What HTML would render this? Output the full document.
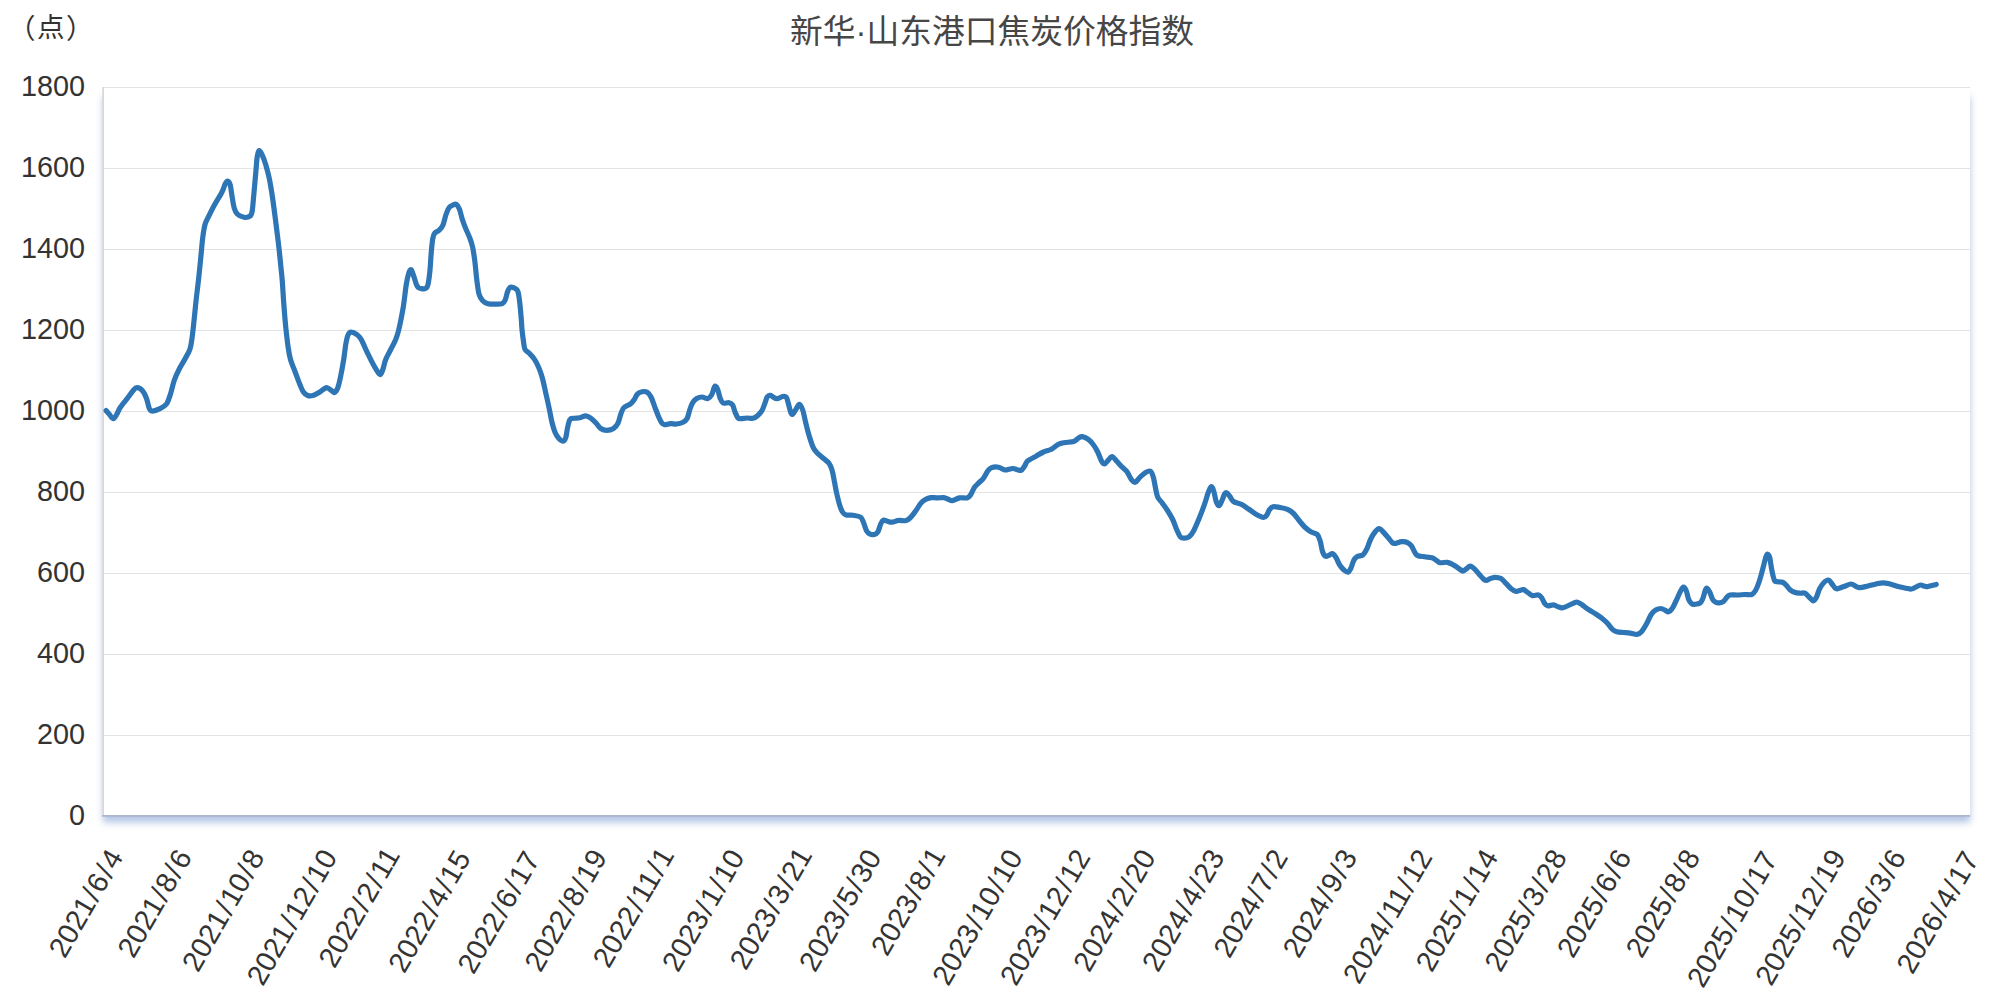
<!DOCTYPE html>
<html lang="zh-CN">
<head>
<meta charset="utf-8">
<title>新华·山东港口焦炭价格指数</title>
<style>
html,body{margin:0;padding:0;background:#fff;}
body{width:2000px;height:1003px;position:relative;overflow:hidden;font-family:"Liberation Sans","Noto Sans CJK SC",sans-serif;color:#333;}
.plot{position:absolute;left:103.0px;top:87.5px;width:1867.0px;height:727.9px;background:#fff;box-shadow:0 7.6px 7px rgba(85,124,195,.44);}
.title{position:absolute;left:0;top:12px;width:1984px;text-align:center;font-size:32.75px;line-height:40px;color:#464646;white-space:nowrap;}
.unit{position:absolute;left:9.5px;top:9.7px;font-size:27.5px;line-height:36px;color:#333;white-space:nowrap;}
svg{position:absolute;left:0;top:0;}
svg text{font-family:"Liberation Sans","Noto Sans CJK SC",sans-serif;fill:#333;}
.yl{font-size:28.8px;text-anchor:end;}
.xl{font-size:28.8px;text-anchor:middle;}
</style>
</head>
<body>
<div class="plot"></div>
<div class="title">新华·山东港口焦炭价格指数</div>
<div class="unit"><span style="position:relative;left:-1.5px;top:1.5px">（</span>点<span style="position:relative;left:1.5px;top:1.5px">）</span></div>
<svg width="2000" height="1003" viewBox="0 0 2000 1003">
<g stroke="#e3e3e3" stroke-width="1" shape-rendering="crispEdges">
<line x1="103.0" y1="87.50" x2="1970.0" y2="87.50"/>
<line x1="103.0" y1="168.50" x2="1970.0" y2="168.50"/>
<line x1="103.0" y1="249.50" x2="1970.0" y2="249.50"/>
<line x1="103.0" y1="330.50" x2="1970.0" y2="330.50"/>
<line x1="103.0" y1="411.50" x2="1970.0" y2="411.50"/>
<line x1="103.0" y1="492.50" x2="1970.0" y2="492.50"/>
<line x1="103.0" y1="573.50" x2="1970.0" y2="573.50"/>
<line x1="103.0" y1="654.50" x2="1970.0" y2="654.50"/>
<line x1="103.0" y1="735.50" x2="1970.0" y2="735.50"/>
</g>
<line x1="103.1" y1="87.0" x2="103.1" y2="815.2" stroke="#d9d9db" stroke-width="1.8"/>
<line x1="102.2" y1="815.9" x2="1970.0" y2="815.9" stroke="#acb6ca" stroke-width="1.8"/>
<path d="M106.1 410.6C106.7 411.2 108.3 413.1 109.5 414.5C110.7 415.9 112.1 418.8 113.3 418.7C114.5 418.6 115.8 415.9 116.9 414.0C118.1 412.1 118.4 410.2 120.2 407.5C122.0 404.8 125.8 400.4 127.9 397.7C130.0 394.9 131.3 392.7 132.8 391.0C134.3 389.3 135.2 387.7 136.9 387.7C138.6 387.7 141.1 389.2 142.7 391.0C144.3 392.8 145.4 395.5 146.5 398.5C147.6 401.5 148.5 406.9 149.5 409.0C150.5 411.1 150.8 411.2 152.5 411.2C154.2 411.1 157.6 409.9 160.0 408.7C162.4 407.4 164.9 406.1 166.7 403.7C168.4 401.2 169.2 397.9 170.5 394.0C171.8 390.1 172.7 384.8 174.2 380.5C175.7 376.2 177.6 372.2 179.5 368.5C181.4 364.8 183.8 361.2 185.5 358.0C187.2 354.8 188.9 352.5 190.0 349.0C191.1 345.5 191.4 342.5 192.2 337.0C192.9 331.5 193.8 323.0 194.5 316.0C195.2 309.0 196.0 301.0 196.7 295.0C197.4 289.0 197.8 286.2 198.5 280.0C199.2 273.8 200.1 264.5 200.8 257.5C201.5 250.5 202.0 243.5 202.7 238.0C203.4 232.5 204.1 227.9 205.0 224.5C205.9 221.1 206.5 220.8 208.0 217.7C209.5 214.6 211.8 209.8 214.0 205.7C216.2 201.6 219.6 196.6 221.5 193.0C223.4 189.4 224.2 186.0 225.2 184.0C226.2 182.0 226.7 180.9 227.5 181.0C228.3 181.1 229.4 182.2 230.2 184.7C230.9 187.2 231.3 192.1 232.0 196.0C232.7 199.9 233.3 205.0 234.2 208.0C235.1 211.0 235.6 212.4 237.2 214.0C238.8 215.6 241.9 216.9 244.0 217.3C246.1 217.7 248.6 217.2 250.0 216.2C251.4 215.1 251.6 214.4 252.2 211.0C252.8 207.6 253.1 202.2 253.7 196.0C254.3 189.8 255.1 180.0 255.7 173.5C256.3 167.0 256.6 160.8 257.2 157.0C257.8 153.2 258.2 151.1 259.0 150.7C259.8 150.3 260.9 152.4 262.0 154.7C263.1 157.0 264.4 160.4 265.7 164.5C266.9 168.6 268.4 174.0 269.5 179.5C270.6 185.0 271.5 190.8 272.5 197.5C273.5 204.2 274.5 212.2 275.5 220.0C276.5 227.8 277.6 236.5 278.5 244.0C279.4 251.5 280.1 259.0 280.7 265.0C281.3 271.0 281.7 273.8 282.2 280.0C282.7 286.2 283.1 294.2 283.7 302.5C284.3 310.8 285.2 322.0 286.0 329.5C286.8 337.0 287.4 342.5 288.2 347.5C288.9 352.5 289.4 355.5 290.5 359.5C291.6 363.5 293.5 367.5 295.0 371.5C296.5 375.5 298.1 380.1 299.5 383.5C300.9 386.9 301.8 389.7 303.2 391.7C304.6 393.7 306.1 394.9 307.7 395.5C309.3 396.1 311.1 396.0 313.0 395.5C314.9 395.0 317.2 393.6 319.0 392.5C320.8 391.4 322.1 390.0 323.5 389.2C324.9 388.4 325.9 387.5 327.2 387.7C328.4 387.9 329.8 389.4 331.0 390.2C332.2 391.0 333.2 392.9 334.3 392.5C335.4 392.1 336.6 390.8 337.7 388.0C338.8 385.2 339.7 380.8 340.7 376.0C341.7 371.2 342.8 365.0 343.7 359.5C344.6 354.0 345.2 347.1 346.0 343.0C346.8 338.9 347.3 336.5 348.2 334.7C349.1 332.9 349.8 332.3 351.2 332.2C352.6 332.1 354.9 333.1 356.5 334.3C358.1 335.5 359.2 336.2 361.0 339.2C362.8 342.1 365.0 347.9 367.0 352.0C369.0 356.1 371.2 360.8 373.0 364.0C374.8 367.2 376.3 369.8 377.5 371.5C378.7 373.2 379.3 374.8 380.2 374.5C381.1 374.2 381.8 372.5 382.7 370.0C383.6 367.5 384.4 362.8 385.7 359.5C386.9 356.2 388.6 353.8 390.2 350.5C391.8 347.2 394.1 343.4 395.5 340.0C396.9 336.6 397.4 335.4 398.7 330.0C400.0 324.6 401.9 315.0 403.2 307.5C404.4 300.0 405.3 290.8 406.2 285.0C407.1 279.2 408.0 275.6 408.8 273.0C409.6 270.4 410.4 269.2 411.2 269.7C412.0 270.2 412.8 273.5 413.7 276.0C414.6 278.5 415.6 282.5 416.4 284.5C417.2 286.5 417.8 287.1 418.6 287.8C419.5 288.5 420.5 288.5 421.5 288.6C422.5 288.8 423.6 288.9 424.5 288.7C425.4 288.5 426.0 288.4 426.6 287.6C427.2 286.8 427.5 286.9 428.1 284.0C428.7 281.1 429.5 275.3 430.0 270.0C430.5 264.7 430.8 257.2 431.3 252.0C431.8 246.8 432.2 241.6 432.8 238.5C433.4 235.4 433.6 234.6 434.7 233.2C435.8 231.8 437.8 231.6 439.2 230.2C440.6 228.8 441.9 227.6 443.0 225.0C444.1 222.4 445.0 217.4 446.0 214.5C447.0 211.6 447.9 209.2 449.0 207.7C450.1 206.1 451.5 205.8 452.7 205.2C453.9 204.6 455.1 203.6 456.2 204.3C457.3 205.0 458.5 206.8 459.5 209.2C460.5 211.6 461.2 215.9 462.2 219.0C463.2 222.1 464.2 224.8 465.5 228.0C466.8 231.2 468.8 235.2 470.0 238.5C471.2 241.8 471.9 243.8 472.7 247.5C473.5 251.2 474.1 255.8 474.8 261.0C475.5 266.2 476.0 273.5 476.7 279.0C477.4 284.5 478.0 290.4 479.0 294.0C480.0 297.6 481.2 299.1 482.7 300.7C484.2 302.3 485.9 303.1 488.0 303.7C490.1 304.3 493.1 304.2 495.5 304.2C497.9 304.2 500.6 304.4 502.2 303.7C503.8 303.0 504.3 302.1 505.2 300.0C506.1 297.9 506.9 293.1 507.8 291.0C508.7 288.9 509.3 287.6 510.5 287.2C511.7 286.8 513.8 287.6 515.0 288.3C516.2 289.1 517.2 289.2 518.0 291.7C518.8 294.1 519.3 298.6 519.8 303.0C520.3 307.4 520.8 313.6 521.2 318.0C521.6 322.4 521.6 325.6 522.0 329.5C522.4 333.4 523.0 338.2 523.5 341.5C524.0 344.8 524.0 347.3 525.0 349.3C526.0 351.3 528.0 351.9 529.5 353.5C531.0 355.1 532.5 356.4 534.0 358.7C535.5 360.9 537.1 363.9 538.5 367.0C539.9 370.1 541.0 373.0 542.2 377.5C543.5 382.0 544.8 388.8 546.0 394.0C547.2 399.2 548.3 404.2 549.3 409.0C550.3 413.8 551.0 418.6 552.0 422.5C553.0 426.4 553.9 429.6 555.0 432.2C556.1 434.8 557.3 436.7 558.7 438.2C560.1 439.7 562.0 441.3 563.2 441.2C564.4 441.1 565.0 439.9 565.8 437.5C566.5 435.1 567.0 430.0 567.7 427.0C568.4 424.0 569.0 420.9 570.0 419.5C571.0 418.1 572.1 418.6 573.7 418.3C575.3 418.0 577.7 418.1 579.7 417.7C581.7 417.3 583.8 415.8 585.7 415.9C587.6 416.0 589.2 417.1 591.0 418.3C592.8 419.5 594.6 421.5 596.2 423.2C597.8 424.9 599.0 427.3 600.7 428.5C602.5 429.7 604.6 430.4 606.7 430.4C608.8 430.4 611.6 429.7 613.5 428.5C615.4 427.3 616.8 425.7 618.0 423.2C619.2 420.7 620.0 416.1 621.0 413.5C622.0 410.9 622.4 409.1 624.0 407.5C625.6 405.9 629.0 405.1 630.7 403.7C632.5 402.3 633.4 400.8 634.5 399.2C635.6 397.6 636.2 395.2 637.5 394.0C638.8 392.8 640.4 392.0 642.0 391.7C643.6 391.4 645.7 391.3 647.2 392.2C648.7 393.1 649.8 394.6 651.0 397.0C652.2 399.4 653.5 403.4 654.7 406.7C656.0 409.9 657.4 413.9 658.5 416.5C659.6 419.1 660.5 421.1 661.5 422.5C662.5 423.9 663.0 424.5 664.5 424.7C666.0 424.9 668.5 423.8 670.5 423.7C672.5 423.6 674.5 424.2 676.5 424.0C678.5 423.8 680.8 423.4 682.5 422.5C684.2 421.6 685.8 420.9 687.0 418.7C688.2 416.4 689.0 411.8 690.0 409.0C691.0 406.2 691.9 403.9 693.0 402.2C694.1 400.4 695.2 399.4 696.7 398.5C698.2 397.6 700.1 397.0 702.0 397.0C703.9 397.0 706.4 398.9 708.0 398.5C709.6 398.1 710.7 396.4 711.7 394.7C712.7 392.9 713.4 389.4 714.0 388.0C714.6 386.6 714.9 385.9 715.5 386.2C716.1 386.4 717.0 387.6 717.7 389.5C718.5 391.4 719.1 395.4 720.0 397.7C720.9 399.9 721.5 402.2 723.0 403.0C724.5 403.8 727.4 402.3 729.0 402.7C730.6 403.1 731.7 403.6 732.7 405.2C733.7 406.8 734.1 409.9 735.0 412.0C735.9 414.1 737.0 416.9 738.0 418.0C739.0 419.1 739.5 418.7 741.0 418.7C742.5 418.7 745.0 418.1 747.0 418.0C749.0 417.9 751.2 418.7 753.0 418.3C754.8 417.9 756.0 417.0 757.5 415.7C759.0 414.4 760.8 412.6 762.0 410.5C763.2 408.4 764.1 405.2 765.0 403.0C765.9 400.8 766.3 398.3 767.2 397.0C768.1 395.7 768.7 395.0 770.2 395.3C771.8 395.6 774.5 398.5 776.5 398.7C778.5 398.9 780.9 396.8 782.5 396.5C784.1 396.2 785.2 395.9 786.2 397.2C787.2 398.4 787.8 401.5 788.5 404.0C789.2 406.5 790.0 410.5 790.7 412.2C791.4 413.9 791.8 414.7 792.7 414.2C793.6 413.7 794.9 410.8 796.0 409.2C797.1 407.6 798.2 404.2 799.3 404.3C800.4 404.4 801.6 406.9 802.7 410.0C803.8 413.1 804.6 418.2 805.7 422.7C806.8 427.2 808.2 432.9 809.5 437.0C810.8 441.1 812.0 444.9 813.2 447.5C814.5 450.1 815.4 450.9 817.0 452.7C818.6 454.4 821.0 456.2 823.0 458.0C825.0 459.8 827.5 461.2 829.0 463.2C830.5 465.2 831.1 467.1 832.0 470.0C832.9 472.9 833.5 476.8 834.2 480.5C835.0 484.2 835.6 488.5 836.5 492.5C837.4 496.5 838.5 501.2 839.5 504.5C840.5 507.8 841.4 510.2 842.5 512.0C843.6 513.8 844.5 514.5 846.2 515.0C848.0 515.5 850.6 514.9 853.0 515.3C855.4 515.7 858.8 516.0 860.5 517.2C862.2 518.4 862.5 520.2 863.5 522.5C864.5 524.8 865.4 528.8 866.5 530.7C867.6 532.7 869.0 533.6 870.2 534.2C871.5 534.8 872.8 534.8 874.0 534.5C875.2 534.2 876.6 534.0 877.7 532.2C878.8 530.5 879.8 526.0 880.7 524.0C881.6 522.0 882.2 520.7 883.3 520.2C884.4 519.8 886.0 521.0 887.5 521.3C889.0 521.6 890.1 522.4 892.0 522.2C893.9 522.1 896.5 520.6 898.7 520.4C901.0 520.1 903.6 521.1 905.5 520.7C907.4 520.3 908.2 519.7 910.0 518.0C911.8 516.3 914.2 512.9 916.0 510.5C917.8 508.1 919.0 505.5 920.5 503.7C922.0 501.9 923.2 500.7 925.0 499.7C926.8 498.7 929.0 497.9 931.0 497.6C933.0 497.3 934.9 497.9 937.0 497.9C939.1 497.9 941.8 497.4 943.7 497.6C945.6 497.8 946.8 498.7 948.2 499.2C949.6 499.7 950.4 500.9 952.3 500.7C954.2 500.5 957.0 498.4 959.5 497.9C962.0 497.4 965.1 498.4 967.0 497.9C968.9 497.4 969.5 496.5 970.7 494.7C972.0 492.9 973.1 489.2 974.5 487.2C975.9 485.2 977.5 484.2 979.0 482.7C980.5 481.2 982.0 480.2 983.5 478.2C985.0 476.2 986.6 472.4 988.0 470.7C989.4 468.9 990.2 468.3 991.7 467.7C993.2 467.1 995.4 466.9 997.0 467.0C998.6 467.1 1000.1 468.0 1001.5 468.5C1002.9 469.0 1003.3 470.0 1005.2 470.0C1007.1 470.0 1010.7 468.6 1012.7 468.5C1014.7 468.4 1015.8 469.4 1017.2 469.7C1018.6 470.0 1019.9 470.8 1021.0 470.4C1022.1 469.9 1023.0 468.4 1024.0 467.0C1025.0 465.6 1026.0 462.9 1027.0 461.7C1028.0 460.4 1028.5 460.4 1030.0 459.5C1031.5 458.6 1033.8 457.4 1036.0 456.2C1038.2 454.9 1041.0 453.1 1043.5 452.0C1046.0 450.9 1048.8 450.6 1051.2 449.3C1053.6 448.1 1055.9 445.6 1058.0 444.5C1060.1 443.4 1061.4 443.2 1064.0 442.7C1066.6 442.2 1071.3 442.2 1073.7 441.5C1076.1 440.8 1076.8 439.0 1078.2 438.2C1079.6 437.4 1080.7 436.5 1082.3 436.7C1083.9 436.9 1086.2 437.9 1088.0 439.2C1089.8 440.5 1091.6 442.4 1093.2 444.5C1094.8 446.6 1096.3 449.2 1097.7 452.0C1099.1 454.8 1100.4 459.0 1101.5 461.0C1102.6 463.0 1103.4 464.1 1104.5 464.0C1105.6 463.9 1107.0 461.4 1108.2 460.2C1109.5 458.9 1110.6 456.4 1112.0 456.5C1113.4 456.6 1114.9 459.3 1116.5 461.0C1118.1 462.7 1120.0 464.9 1121.7 466.7C1123.5 468.5 1125.4 469.6 1127.0 471.8C1128.6 474.0 1130.1 477.9 1131.5 479.7C1132.9 481.4 1133.8 482.7 1135.2 482.3C1136.6 481.9 1138.1 479.1 1139.7 477.5C1141.3 475.9 1143.2 474.1 1145.0 473.0C1146.8 471.9 1148.8 470.6 1150.2 471.2C1151.6 471.8 1152.3 473.9 1153.2 476.7C1154.1 479.5 1154.8 484.6 1155.5 488.0C1156.2 491.4 1156.6 494.5 1157.7 497.0C1158.8 499.5 1160.6 500.8 1162.2 503.0C1163.8 505.2 1165.8 507.8 1167.5 510.5C1169.2 513.2 1171.2 516.4 1172.7 519.5C1174.2 522.6 1175.2 526.3 1176.5 529.2C1177.8 532.1 1179.0 535.2 1180.2 536.7C1181.5 538.2 1182.5 538.2 1184.0 538.2C1185.5 538.2 1187.6 538.0 1189.2 536.7C1190.8 535.5 1192.1 533.7 1193.7 530.7C1195.3 527.7 1197.2 523.0 1199.0 518.7C1200.8 514.5 1202.7 509.4 1204.2 505.2C1205.7 500.9 1207.0 496.1 1208.0 493.2C1209.0 490.3 1209.6 489.1 1210.2 488.0C1210.8 486.9 1211.1 486.3 1211.7 486.8C1212.3 487.3 1213.0 488.6 1213.7 491.0C1214.5 493.4 1215.3 499.1 1216.2 501.5C1217.1 503.9 1218.2 505.9 1219.2 505.7C1220.2 505.4 1221.3 501.9 1222.2 500.0C1223.1 498.1 1223.8 495.2 1224.5 494.0C1225.2 492.8 1225.8 492.4 1226.7 492.8C1227.6 493.2 1228.6 494.8 1229.7 496.2C1230.8 497.6 1231.6 500.2 1233.5 501.5C1235.4 502.8 1238.5 502.9 1241.0 504.2C1243.5 505.4 1246.0 507.3 1248.5 509.0C1251.0 510.7 1253.5 512.8 1256.0 514.2C1258.5 515.6 1261.7 517.3 1263.5 517.4C1265.3 517.5 1265.8 516.3 1266.8 515.0C1267.8 513.7 1268.4 511.1 1269.5 509.7C1270.6 508.3 1271.5 507.1 1273.2 506.7C1275.0 506.3 1277.6 507.1 1280.0 507.5C1282.4 507.9 1285.2 508.4 1287.5 509.4C1289.8 510.4 1291.5 511.6 1293.5 513.5C1295.5 515.4 1297.5 518.7 1299.5 521.0C1301.5 523.3 1303.2 525.7 1305.2 527.5C1307.2 529.3 1309.2 530.9 1311.2 532.0C1313.2 533.1 1315.7 532.9 1317.2 534.4C1318.7 535.9 1319.3 538.1 1320.2 541.0C1321.1 543.9 1321.6 549.0 1322.5 551.5C1323.4 554.0 1324.4 555.7 1325.5 556.3C1326.6 556.9 1328.0 555.6 1329.2 555.2C1330.4 554.8 1331.6 553.3 1332.7 553.7C1333.8 554.1 1334.8 555.6 1336.0 557.5C1337.2 559.4 1338.3 562.9 1339.7 565.0C1341.1 567.1 1342.8 569.0 1344.2 570.2C1345.6 571.4 1346.9 572.6 1348.0 572.2C1349.1 571.8 1350.0 570.0 1351.0 568.0C1352.0 566.0 1352.7 562.4 1353.7 560.5C1354.7 558.6 1355.5 557.7 1357.0 556.7C1358.5 555.8 1361.4 556.0 1363.0 554.8C1364.6 553.5 1365.5 551.8 1366.7 549.2C1368.0 546.7 1369.1 542.4 1370.5 539.5C1371.9 536.6 1373.5 533.8 1375.0 532.0C1376.5 530.2 1377.8 528.7 1379.2 528.7C1380.6 528.7 1381.7 530.5 1383.2 532.0C1384.8 533.5 1387.0 536.2 1388.5 538.0C1390.0 539.8 1391.2 541.6 1392.2 542.5C1393.2 543.4 1392.9 543.6 1394.5 543.5C1396.1 543.4 1399.8 541.8 1402.0 541.7C1404.2 541.6 1406.4 542.0 1408.0 542.8C1409.6 543.5 1410.6 544.6 1411.7 546.2C1412.8 547.8 1413.7 550.6 1414.7 552.2C1415.7 553.8 1416.1 555.0 1417.7 555.7C1419.3 556.5 1422.1 556.4 1424.5 556.7C1426.9 557.1 1430.0 557.2 1432.0 557.8C1434.0 558.4 1435.1 559.7 1436.5 560.5C1437.9 561.3 1438.5 562.4 1440.2 562.7C1442.0 563.0 1445.1 562.1 1447.0 562.3C1448.9 562.5 1449.9 563.0 1451.5 563.8C1453.1 564.6 1454.8 565.8 1456.7 567.0C1458.6 568.2 1461.1 570.7 1462.7 571.0C1464.3 571.3 1465.2 569.5 1466.5 568.7C1467.8 567.9 1468.8 566.1 1470.2 566.2C1471.6 566.3 1473.1 567.7 1474.7 569.2C1476.3 570.7 1478.5 573.5 1480.0 575.2C1481.5 576.9 1482.7 578.3 1483.7 579.2C1484.8 580.1 1485.2 580.5 1486.3 580.4C1487.4 580.3 1489.0 579.0 1490.5 578.5C1492.0 578.0 1493.2 577.3 1495.0 577.3C1496.8 577.3 1499.1 577.4 1501.0 578.5C1502.9 579.6 1504.5 582.0 1506.2 583.7C1508.0 585.5 1509.9 587.7 1511.5 589.0C1513.1 590.3 1514.5 591.2 1516.0 591.4C1517.5 591.6 1519.2 590.5 1520.5 590.2C1521.8 589.9 1522.2 589.2 1523.5 589.6C1524.8 590.0 1526.5 591.7 1528.0 592.7C1529.5 593.7 1530.8 595.2 1532.5 595.6C1534.2 596.0 1537.0 594.6 1538.5 595.0C1540.0 595.4 1540.8 596.6 1541.8 598.0C1542.8 599.4 1543.5 601.9 1544.5 603.2C1545.5 604.5 1546.0 605.5 1547.5 605.8C1549.0 606.1 1551.8 604.8 1553.5 604.9C1555.2 605.0 1556.5 606.2 1558.0 606.7C1559.5 607.2 1560.5 608.1 1562.2 607.9C1564.0 607.7 1566.5 606.4 1568.5 605.5C1570.5 604.6 1573.0 603.3 1574.5 602.8C1576.0 602.2 1576.2 601.9 1577.5 602.2C1578.8 602.5 1580.3 603.6 1582.0 604.7C1583.7 605.8 1585.1 607.2 1587.5 608.8C1589.9 610.4 1594.0 612.9 1596.5 614.5C1599.0 616.1 1600.6 617.2 1602.5 618.7C1604.4 620.2 1606.1 621.8 1607.7 623.5C1609.3 625.2 1610.7 627.8 1612.2 629.2C1613.7 630.6 1614.8 631.2 1616.7 631.7C1618.6 632.2 1621.2 632.3 1623.5 632.5C1625.8 632.7 1628.0 632.8 1630.2 633.1C1632.5 633.4 1635.1 634.5 1637.0 634.3C1638.9 634.1 1639.9 633.5 1641.5 631.7C1643.1 629.9 1645.1 626.4 1646.7 623.5C1648.3 620.6 1649.7 616.8 1651.2 614.5C1652.7 612.2 1654.1 611.0 1655.7 610.0C1657.3 609.0 1659.4 608.5 1661.0 608.5C1662.6 608.5 1664.0 609.8 1665.2 610.3C1666.5 610.8 1667.3 612.1 1668.5 611.8C1669.7 611.5 1671.0 610.3 1672.2 608.5C1673.5 606.7 1674.6 603.9 1676.0 601.0C1677.4 598.1 1679.2 593.5 1680.5 591.2C1681.8 588.9 1682.5 587.3 1683.5 587.2C1684.5 587.1 1685.3 588.5 1686.2 590.5C1687.1 592.5 1687.8 597.3 1688.7 599.5C1689.6 601.7 1690.7 602.9 1691.7 603.7C1692.7 604.5 1693.3 604.4 1694.7 604.3C1696.1 604.2 1698.6 604.2 1700.0 603.2C1701.4 602.2 1702.1 600.1 1703.0 598.0C1703.9 595.9 1704.5 592.1 1705.2 590.5C1705.9 588.9 1706.2 588.0 1707.0 588.2C1707.8 588.5 1708.8 590.1 1709.7 592.0C1710.7 593.9 1711.7 597.8 1712.7 599.5C1713.7 601.2 1714.6 601.7 1715.7 602.2C1716.8 602.8 1718.2 602.9 1719.5 602.8C1720.8 602.7 1722.0 602.6 1723.2 601.7C1724.5 600.8 1725.9 598.3 1727.0 597.2C1728.1 596.1 1728.2 595.4 1730.0 595.0C1731.8 594.6 1735.0 595.1 1737.5 595.0C1740.0 594.9 1742.6 594.6 1745.0 594.5C1747.4 594.4 1750.0 595.2 1751.7 594.5C1753.5 593.8 1754.2 592.7 1755.5 590.5C1756.8 588.3 1758.0 585.2 1759.2 581.5C1760.5 577.8 1761.9 572.1 1763.0 568.0C1764.1 563.9 1765.2 559.0 1766.0 556.7C1766.8 554.4 1767.2 554.1 1767.8 554.2C1768.4 554.3 1769.0 555.0 1769.7 557.5C1770.4 560.0 1771.0 566.0 1771.7 569.5C1772.4 573.0 1773.1 576.5 1773.8 578.5C1774.5 580.5 1774.2 580.9 1775.7 581.5C1777.2 582.1 1780.8 581.6 1782.5 582.2C1784.2 582.8 1785.0 584.0 1786.2 585.2C1787.5 586.5 1788.6 588.5 1790.0 589.7C1791.4 590.9 1792.9 591.7 1794.5 592.3C1796.1 592.9 1798.0 593.1 1799.7 593.2C1801.5 593.4 1803.4 592.5 1805.0 593.2C1806.6 593.9 1808.1 596.2 1809.5 597.5C1810.9 598.8 1812.0 600.9 1813.2 600.8C1814.4 600.7 1815.5 599.0 1816.5 597.0C1817.5 595.0 1818.3 591.3 1819.5 589.0C1820.7 586.7 1822.0 584.5 1823.5 583.0C1825.0 581.5 1827.1 579.8 1828.5 580.0C1829.9 580.2 1830.9 582.7 1832.0 584.0C1833.1 585.3 1834.1 587.2 1835.0 588.0C1835.9 588.8 1836.0 589.0 1837.5 588.8C1839.0 588.5 1841.8 587.3 1844.0 586.5C1846.2 585.7 1849.0 584.0 1851.0 584.0C1853.0 584.0 1854.5 585.9 1856.0 586.5C1857.5 587.1 1858.0 587.8 1860.0 587.7C1862.0 587.6 1865.3 586.6 1868.0 586.0C1870.7 585.4 1873.5 584.5 1876.0 584.0C1878.5 583.5 1880.7 582.8 1883.0 582.8C1885.3 582.8 1887.5 583.4 1890.0 584.0C1892.5 584.6 1895.3 585.8 1898.0 586.5C1900.7 587.2 1903.8 587.8 1906.0 588.2C1908.2 588.6 1909.8 589.2 1911.5 589.0C1913.2 588.8 1914.5 587.7 1916.0 587.0C1917.5 586.3 1919.2 585.2 1920.5 585.0C1921.8 584.8 1922.8 585.7 1924.0 586.0C1925.2 586.3 1926.2 586.7 1927.5 586.6C1928.8 586.5 1930.5 585.9 1932.0 585.5C1933.5 585.1 1935.5 584.6 1936.2 584.4" fill="none" stroke="#2e75b6" stroke-width="5.2" stroke-linecap="round" stroke-linejoin="round"/>
<g class="yl">
<text x="85.0" y="85.8" dy="0.358em">1800</text>
<text x="85.0" y="166.8" dy="0.358em">1600</text>
<text x="85.0" y="247.8" dy="0.358em">1400</text>
<text x="85.0" y="328.8" dy="0.358em">1200</text>
<text x="85.0" y="409.8" dy="0.358em">1000</text>
<text x="85.0" y="490.8" dy="0.358em">800</text>
<text x="85.0" y="571.8" dy="0.358em">600</text>
<text x="85.0" y="652.8" dy="0.358em">400</text>
<text x="85.0" y="733.8" dy="0.358em">200</text>
<text x="85.0" y="814.8" dy="0.358em">0</text>
</g>
<g class="xl">
<text transform="translate(85.40 903.12) rotate(-60)" dy="0.358em">2021<tspan dx="1.6">/</tspan><tspan dx="1.6">6</tspan><tspan dx="1.6">/</tspan><tspan dx="1.6">4</tspan></text>
<text transform="translate(154.10 903.12) rotate(-60)" dy="0.358em">2021<tspan dx="1.6">/</tspan><tspan dx="1.6">8</tspan><tspan dx="1.6">/</tspan><tspan dx="1.6">6</tspan></text>
<text transform="translate(222.80 910.05) rotate(-60)" dy="0.358em">2021<tspan dx="1.6">/</tspan><tspan dx="1.6">10</tspan><tspan dx="1.6">/</tspan><tspan dx="1.6">8</tspan></text>
<text transform="translate(291.50 916.99) rotate(-60)" dy="0.358em">2021<tspan dx="1.6">/</tspan><tspan dx="1.6">12</tspan><tspan dx="1.6">/</tspan><tspan dx="1.6">10</tspan></text>
<text transform="translate(358.70 907.05) rotate(-60)" dy="0.358em">2022<tspan dx="1.6">/</tspan><tspan dx="1.6">2</tspan><tspan dx="1.6">/</tspan><tspan dx="1.6">11</tspan></text>
<text transform="translate(428.90 911.05) rotate(-60)" dy="0.358em">2022<tspan dx="1.6">/</tspan><tspan dx="1.6">4</tspan><tspan dx="1.6">/</tspan><tspan dx="1.6">15</tspan></text>
<text transform="translate(498.10 912.05) rotate(-60)" dy="0.358em">2022<tspan dx="1.6">/</tspan><tspan dx="1.6">6</tspan><tspan dx="1.6">/</tspan><tspan dx="1.6">17</tspan></text>
<text transform="translate(565.30 910.05) rotate(-60)" dy="0.358em">2022<tspan dx="1.6">/</tspan><tspan dx="1.6">8</tspan><tspan dx="1.6">/</tspan><tspan dx="1.6">19</tspan></text>
<text transform="translate(633.00 907.05) rotate(-60)" dy="0.358em">2022<tspan dx="1.6">/</tspan><tspan dx="1.6">11</tspan><tspan dx="1.6">/</tspan><tspan dx="1.6">1</tspan></text>
<text transform="translate(702.70 910.05) rotate(-60)" dy="0.358em">2023<tspan dx="1.6">/</tspan><tspan dx="1.6">1</tspan><tspan dx="1.6">/</tspan><tspan dx="1.6">10</tspan></text>
<text transform="translate(770.40 908.05) rotate(-60)" dy="0.358em">2023<tspan dx="1.6">/</tspan><tspan dx="1.6">3</tspan><tspan dx="1.6">/</tspan><tspan dx="1.6">21</tspan></text>
<text transform="translate(839.60 910.05) rotate(-60)" dy="0.358em">2023<tspan dx="1.6">/</tspan><tspan dx="1.6">5</tspan><tspan dx="1.6">/</tspan><tspan dx="1.6">30</tspan></text>
<text transform="translate(907.80 901.12) rotate(-60)" dy="0.358em">2023<tspan dx="1.6">/</tspan><tspan dx="1.6">8</tspan><tspan dx="1.6">/</tspan><tspan dx="1.6">1</tspan></text>
<text transform="translate(977.00 916.99) rotate(-60)" dy="0.358em">2023<tspan dx="1.6">/</tspan><tspan dx="1.6">10</tspan><tspan dx="1.6">/</tspan><tspan dx="1.6">10</tspan></text>
<text transform="translate(1044.70 916.99) rotate(-60)" dy="0.358em">2023<tspan dx="1.6">/</tspan><tspan dx="1.6">12</tspan><tspan dx="1.6">/</tspan><tspan dx="1.6">12</tspan></text>
<text transform="translate(1113.90 910.05) rotate(-60)" dy="0.358em">2024<tspan dx="1.6">/</tspan><tspan dx="1.6">2</tspan><tspan dx="1.6">/</tspan><tspan dx="1.6">20</tspan></text>
<text transform="translate(1182.60 910.05) rotate(-60)" dy="0.358em">2024<tspan dx="1.6">/</tspan><tspan dx="1.6">4</tspan><tspan dx="1.6">/</tspan><tspan dx="1.6">23</tspan></text>
<text transform="translate(1250.30 903.12) rotate(-60)" dy="0.358em">2024<tspan dx="1.6">/</tspan><tspan dx="1.6">7</tspan><tspan dx="1.6">/</tspan><tspan dx="1.6">2</tspan></text>
<text transform="translate(1319.50 903.12) rotate(-60)" dy="0.358em">2024<tspan dx="1.6">/</tspan><tspan dx="1.6">9</tspan><tspan dx="1.6">/</tspan><tspan dx="1.6">3</tspan></text>
<text transform="translate(1387.20 915.99) rotate(-60)" dy="0.358em">2024<tspan dx="1.6">/</tspan><tspan dx="1.6">11</tspan><tspan dx="1.6">/</tspan><tspan dx="1.6">12</tspan></text>
<text transform="translate(1456.40 910.05) rotate(-60)" dy="0.358em">2025<tspan dx="1.6">/</tspan><tspan dx="1.6">1</tspan><tspan dx="1.6">/</tspan><tspan dx="1.6">14</tspan></text>
<text transform="translate(1525.10 910.05) rotate(-60)" dy="0.358em">2025<tspan dx="1.6">/</tspan><tspan dx="1.6">3</tspan><tspan dx="1.6">/</tspan><tspan dx="1.6">28</tspan></text>
<text transform="translate(1593.80 903.12) rotate(-60)" dy="0.358em">2025<tspan dx="1.6">/</tspan><tspan dx="1.6">6</tspan><tspan dx="1.6">/</tspan><tspan dx="1.6">6</tspan></text>
<text transform="translate(1662.50 903.12) rotate(-60)" dy="0.358em">2025<tspan dx="1.6">/</tspan><tspan dx="1.6">8</tspan><tspan dx="1.6">/</tspan><tspan dx="1.6">8</tspan></text>
<text transform="translate(1731.70 918.99) rotate(-60)" dy="0.358em">2025<tspan dx="1.6">/</tspan><tspan dx="1.6">10</tspan><tspan dx="1.6">/</tspan><tspan dx="1.6">17</tspan></text>
<text transform="translate(1799.90 916.99) rotate(-60)" dy="0.358em">2025<tspan dx="1.6">/</tspan><tspan dx="1.6">12</tspan><tspan dx="1.6">/</tspan><tspan dx="1.6">19</tspan></text>
<text transform="translate(1868.10 903.12) rotate(-60)" dy="0.358em">2026<tspan dx="1.6">/</tspan><tspan dx="1.6">3</tspan><tspan dx="1.6">/</tspan><tspan dx="1.6">6</tspan></text>
<text transform="translate(1937.30 912.05) rotate(-60)" dy="0.358em">2026<tspan dx="1.6">/</tspan><tspan dx="1.6">4</tspan><tspan dx="1.6">/</tspan><tspan dx="1.6">17</tspan></text>
</g>
</svg>
</body>
</html>
